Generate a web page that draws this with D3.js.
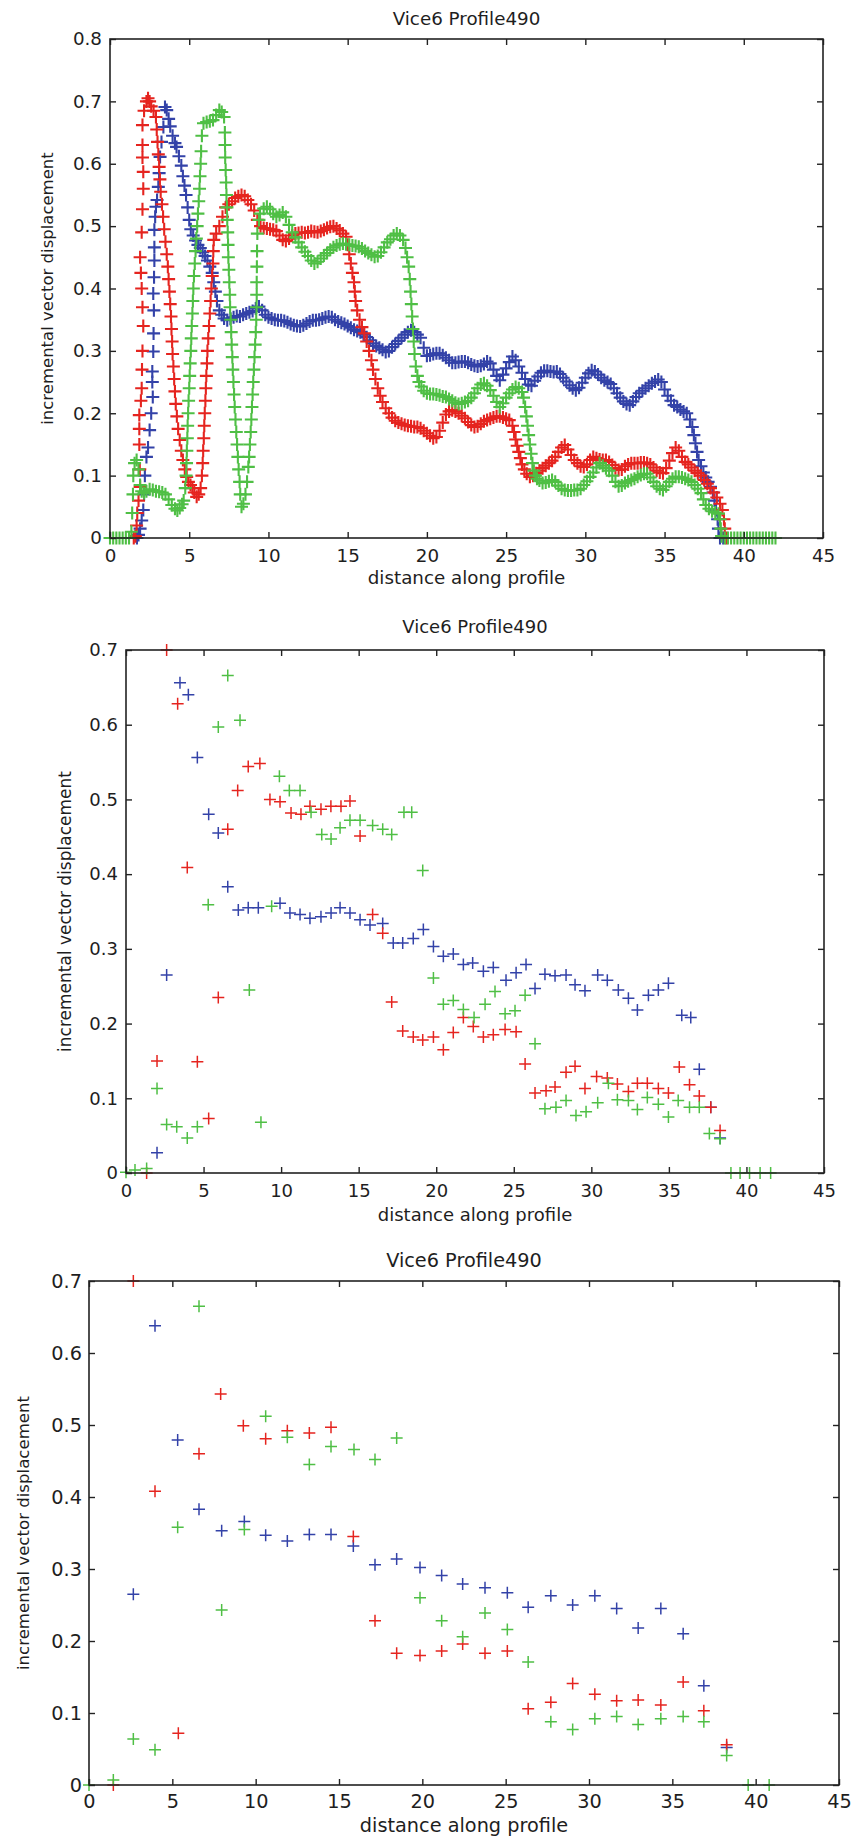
<!DOCTYPE html>
<html>
<head>
<meta charset="utf-8">
<script src="https://cdnjs.cloudflare.com/ajax/libs/d3/7.8.5/d3.min.js"></script>
<style>
    body { margin: 0; background: #fff; }
    svg text { font-family: "DejaVu Sans", sans-serif; fill: #1e1e1e; }
</style>
</head>
<body>
<div id="chart"></div>
<script>
// ---- labels & ticks ----
const chartTitle = "Vice6 Profile490";
const xLabel = "distance along profile";
const yLabel = "incremental vector displacement";
const xTicks = [0, 5, 10, 15, 20, 25, 30, 35, 40, 45];
const yTicksTall = [0, 0.1, 0.2, 0.3, 0.4, 0.5, 0.6, 0.7, 0.8];
const yTicksShort = [0, 0.1, 0.2, 0.3, 0.4, 0.5, 0.6, 0.7];

// ---- top panel: dense profile, [distance, displacement] ----
const denseBlue = [[1.7,0],[1.8,0.005],[1.9,0.015],[2.0,0.028],[2.1,0.045],[2.15,0.07],[2.2,0.1],[2.3,0.13],[2.4,0.145],[2.5,0.173],[2.6,0.2],[2.7,0.226],[2.67,0.25],[2.67,0.267],[2.73,0.299],[2.75,0.328],[2.77,0.365],[2.73,0.392],[2.78,0.418],[2.8,0.445],[2.8,0.466],[2.8,0.494],[2.85,0.515],[2.9,0.531],[2.97,0.542],[3.05,0.563],[3.1,0.585],[3.16,0.611],[3.25,0.635],[3.37,0.659],[3.47,0.691],[3.58,0.686],[3.7,0.672],[3.8,0.66],[3.95,0.645],[4.1,0.633],[4.2,0.627],[4.35,0.612],[4.5,0.597],[4.6,0.58],[4.7,0.565],[4.8,0.55],[4.9,0.53],[5.0,0.51],[5.1,0.495],[5.25,0.485],[5.4,0.477],[5.55,0.47],[5.7,0.465],[5.85,0.458],[6.0,0.452],[6.15,0.445],[6.3,0.435],[6.45,0.425],[6.55,0.41],[6.65,0.395],[6.75,0.38],[6.9,0.365],[7.05,0.358],[7.2,0.352],[7.4,0.349],[7.6,0.352],[7.8,0.354],[8.0,0.356],[8.2,0.355],[8.4,0.358],[8.6,0.36],[8.8,0.362],[9.0,0.364],[9.2,0.368],[9.4,0.371],[9.6,0.365],[9.8,0.358],[10.0,0.354],[10.2,0.352],[10.4,0.35],[10.6,0.349],[10.8,0.349],[11.0,0.348],[11.2,0.346],[11.4,0.343],[11.6,0.341],[11.8,0.34],[12.0,0.339],[12.2,0.341],[12.4,0.344],[12.6,0.347],[12.8,0.349],[13.0,0.349],[13.2,0.35],[13.4,0.352],[13.6,0.354],[13.8,0.355],[14.0,0.354],[14.2,0.35],[14.4,0.347],[14.6,0.345],[14.8,0.343],[15.0,0.34],[15.2,0.337],[15.4,0.334],[15.6,0.332],[15.8,0.33],[16.0,0.326],[16.2,0.322],[16.4,0.317],[16.6,0.312],[16.8,0.308],[17.0,0.305],[17.2,0.302],[17.4,0.298],[17.6,0.3],[17.8,0.306],[18.0,0.311],[18.2,0.316],[18.4,0.321],[18.6,0.326],[18.8,0.33],[19.0,0.333],[19.2,0.33],[19.4,0.326],[19.6,0.321],[19.8,0.305],[20.0,0.292],[20.2,0.293],[20.4,0.295],[20.6,0.296],[20.8,0.296],[21.0,0.293],[21.2,0.289],[21.4,0.285],[21.6,0.281],[21.8,0.281],[22.0,0.282],[22.2,0.283],[22.4,0.283],[22.6,0.281],[22.8,0.278],[23.0,0.276],[23.2,0.275],[23.4,0.276],[23.6,0.279],[23.8,0.283],[24.0,0.28],[24.2,0.27],[24.4,0.26],[24.6,0.253],[24.8,0.262],[25.0,0.272],[25.2,0.282],[25.4,0.291],[25.6,0.285],[25.8,0.275],[26.0,0.265],[26.2,0.255],[26.4,0.246],[26.6,0.244],[26.8,0.252],[27.0,0.259],[27.2,0.265],[27.4,0.268],[27.6,0.268],[27.8,0.267],[28.0,0.266],[28.2,0.267],[28.4,0.263],[28.6,0.257],[28.8,0.251],[29.0,0.245],[29.2,0.24],[29.4,0.237],[29.6,0.241],[29.8,0.249],[30.0,0.257],[30.2,0.264],[30.4,0.269],[30.6,0.267],[30.8,0.262],[31.0,0.257],[31.2,0.253],[31.4,0.25],[31.6,0.247],[31.8,0.24],[32.0,0.232],[32.2,0.225],[32.4,0.219],[32.6,0.215],[32.8,0.213],[33.0,0.219],[33.2,0.226],[33.4,0.232],[33.6,0.236],[33.8,0.24],[34.0,0.244],[34.2,0.248],[34.4,0.251],[34.6,0.254],[34.8,0.25],[35.0,0.238],[35.2,0.228],[35.4,0.22],[35.6,0.213],[35.8,0.21],[36.0,0.206],[36.2,0.203],[36.4,0.2],[36.6,0.19],[36.75,0.178],[36.85,0.165],[36.95,0.152],[37.05,0.138],[37.15,0.125],[37.3,0.115],[37.45,0.105],[37.6,0.097],[37.75,0.09],[37.9,0.082],[38.05,0.073],[38.15,0.06],[38.25,0.045],[38.35,0.03],[38.4,0.015],[38.5,0],[38.7,0]];

const denseRed = [[1.5,0],[1.6,0.003],[1.68,0.02],[1.72,0.04],[1.8,0.06],[1.9,0.082],[1.88,0.11],[1.85,0.15],[1.85,0.175],[1.85,0.197],[1.95,0.22],[2.0,0.24],[2.02,0.27],[2.05,0.3],[2.1,0.34],[2.05,0.37],[2.0,0.4],[1.95,0.425],[1.9,0.45],[2.0,0.49],[2.05,0.527],[2.1,0.56],[2.1,0.587],[2.05,0.61],[2.05,0.63],[2.05,0.662],[2.15,0.685],[2.3,0.7],[2.4,0.705],[2.5,0.7],[2.6,0.692],[2.75,0.685],[2.9,0.675],[2.95,0.655],[3.0,0.635],[3.05,0.615],[3.1,0.595],[3.15,0.575],[3.2,0.555],[3.28,0.535],[3.35,0.515],[3.42,0.495],[3.5,0.475],[3.58,0.455],[3.65,0.435],[3.7,0.415],[3.75,0.395],[3.8,0.375],[3.85,0.355],[3.88,0.335],[3.92,0.315],[3.95,0.295],[4.0,0.275],[4.05,0.255],[4.1,0.235],[4.15,0.215],[4.22,0.195],[4.3,0.175],[4.4,0.157],[4.5,0.14],[4.6,0.125],[4.72,0.11],[4.84,0.098],[4.95,0.09],[5.08,0.085],[5.2,0.08],[5.32,0.073],[5.47,0.066],[5.6,0.07],[5.72,0.08],[5.8,0.1],[5.85,0.12],[5.88,0.14],[5.92,0.16],[5.95,0.18],[5.98,0.2],[6.02,0.22],[6.05,0.24],[6.08,0.26],[6.12,0.28],[6.15,0.3],[6.2,0.32],[6.25,0.34],[6.3,0.36],[6.35,0.38],[6.4,0.4],[6.45,0.42],[6.5,0.44],[6.52,0.46],[6.55,0.478],[6.7,0.488],[6.9,0.5],[7.1,0.515],[7.3,0.53],[7.5,0.535],[7.7,0.54],[7.9,0.545],[8.1,0.548],[8.3,0.55],[8.5,0.548],[8.7,0.542],[8.9,0.535],[9.1,0.525],[9.3,0.51],[9.5,0.5],[9.7,0.497],[9.9,0.496],[10.1,0.495],[10.3,0.494],[10.5,0.492],[10.7,0.485],[10.9,0.478],[11.1,0.476],[11.3,0.48],[11.5,0.485],[11.7,0.488],[11.9,0.489],[12.1,0.49],[12.3,0.489],[12.5,0.49],[12.7,0.492],[12.9,0.491],[13.1,0.49],[13.3,0.492],[13.5,0.494],[13.7,0.497],[13.9,0.499],[14.1,0.5],[14.3,0.496],[14.5,0.493],[14.7,0.488],[14.9,0.483],[15.0,0.47],[15.1,0.455],[15.2,0.44],[15.3,0.425],[15.4,0.41],[15.45,0.395],[15.5,0.38],[15.6,0.365],[15.75,0.35],[15.9,0.338],[16.05,0.328],[16.2,0.315],[16.35,0.3],[16.5,0.285],[16.6,0.27],[16.75,0.255],[16.9,0.24],[17.05,0.228],[17.2,0.218],[17.4,0.208],[17.6,0.2],[17.8,0.193],[18.0,0.188],[18.2,0.185],[18.4,0.183],[18.6,0.181],[18.8,0.18],[19.0,0.179],[19.2,0.178],[19.4,0.178],[19.6,0.176],[19.8,0.172],[20.0,0.168],[20.2,0.164],[20.4,0.16],[20.6,0.162],[20.8,0.172],[21.0,0.185],[21.2,0.198],[21.4,0.203],[21.6,0.205],[21.8,0.203],[22.0,0.2],[22.2,0.196],[22.4,0.192],[22.6,0.186],[22.8,0.181],[23.0,0.178],[23.2,0.179],[23.4,0.183],[23.6,0.187],[23.8,0.189],[24.0,0.191],[24.2,0.193],[24.4,0.195],[24.6,0.195],[24.8,0.193],[25.0,0.191],[25.2,0.189],[25.4,0.18],[25.5,0.17],[25.6,0.158],[25.7,0.148],[25.8,0.138],[25.9,0.128],[26.0,0.118],[26.15,0.11],[26.3,0.103],[26.5,0.098],[26.7,0.1],[26.9,0.104],[27.1,0.108],[27.3,0.112],[27.5,0.116],[27.7,0.12],[27.9,0.124],[28.1,0.13],[28.3,0.138],[28.5,0.145],[28.7,0.149],[28.9,0.142],[29.1,0.133],[29.3,0.125],[29.5,0.12],[29.7,0.115],[29.9,0.114],[30.1,0.118],[30.3,0.125],[30.5,0.13],[30.7,0.128],[30.9,0.126],[31.1,0.125],[31.3,0.125],[31.5,0.122],[31.7,0.117],[31.9,0.112],[32.1,0.109],[32.3,0.11],[32.5,0.115],[32.7,0.118],[32.9,0.12],[33.1,0.12],[33.3,0.12],[33.5,0.121],[33.7,0.121],[33.9,0.12],[34.1,0.118],[34.3,0.113],[34.5,0.108],[34.7,0.105],[34.9,0.104],[35.1,0.112],[35.3,0.124],[35.5,0.136],[35.7,0.145],[35.9,0.14],[36.1,0.13],[36.3,0.122],[36.5,0.118],[36.7,0.113],[36.9,0.108],[37.1,0.104],[37.3,0.1],[37.5,0.093],[37.7,0.087],[37.9,0.08],[38.1,0.073],[38.3,0.065],[38.5,0.055],[38.65,0.045],[38.75,0.03],[38.8,0.015],[38.9,0]];

const denseGreen = [[0,0],[0.2,0],[0.4,0],[0.6,0],[0.8,0],[1.0,0],[1.2,0],[1.35,0.01],[1.4,0.04],[1.45,0.07],[1.47,0.1],[1.55,0.12],[1.68,0.125],[1.8,0.11],[1.9,0.085],[2.0,0.075],[2.15,0.072],[2.3,0.075],[2.5,0.078],[2.7,0.077],[2.9,0.075],[3.1,0.074],[3.3,0.073],[3.5,0.07],[3.7,0.062],[3.9,0.053],[4.1,0.047],[4.25,0.044],[4.4,0.048],[4.55,0.054],[4.65,0.06],[4.75,0.08],[4.8,0.1],[4.83,0.12],[4.85,0.14],[4.88,0.16],[4.9,0.18],[4.93,0.2],[4.96,0.22],[5.0,0.24],[5.03,0.26],[5.06,0.28],[5.1,0.3],[5.13,0.32],[5.16,0.34],[5.2,0.36],[5.23,0.38],[5.26,0.4],[5.3,0.42],[5.35,0.44],[5.4,0.46],[5.45,0.48],[5.5,0.5],[5.55,0.52],[5.6,0.54],[5.65,0.56],[5.68,0.58],[5.72,0.6],[5.75,0.62],[5.8,0.645],[5.9,0.665],[6.1,0.667],[6.3,0.668],[6.5,0.67],[6.7,0.678],[6.9,0.686],[7.05,0.683],[7.2,0.675],[7.25,0.65],[7.26,0.63],[7.27,0.61],[7.3,0.59],[7.33,0.57],[7.35,0.55],[7.38,0.53],[7.4,0.51],[7.43,0.49],[7.45,0.47],[7.47,0.45],[7.5,0.43],[7.53,0.41],[7.56,0.39],[7.58,0.37],[7.62,0.35],[7.65,0.33],[7.68,0.31],[7.72,0.29],[7.75,0.27],[7.79,0.25],[7.83,0.23],[7.87,0.21],[7.92,0.19],[7.97,0.17],[8.02,0.15],[8.07,0.13],[8.12,0.11],[8.18,0.09],[8.22,0.07],[8.3,0.05],[8.42,0.055],[8.55,0.07],[8.65,0.09],[8.73,0.114],[8.78,0.13],[8.83,0.15],[8.88,0.17],[8.92,0.19],[8.96,0.21],[9.0,0.23],[9.04,0.25],[9.08,0.27],[9.12,0.29],[9.16,0.31],[9.2,0.33],[9.23,0.35],[9.25,0.37],[9.26,0.39],[9.26,0.41],[9.27,0.435],[9.28,0.46],[9.3,0.488],[9.4,0.51],[9.47,0.52],[9.7,0.528],[9.9,0.531],[10.1,0.527],[10.3,0.52],[10.5,0.515],[10.7,0.518],[10.9,0.522],[11.1,0.515],[11.3,0.502],[11.5,0.49],[11.7,0.482],[11.9,0.474],[12.1,0.466],[12.3,0.459],[12.5,0.452],[12.7,0.445],[12.9,0.44],[13.1,0.443],[13.3,0.448],[13.5,0.453],[13.7,0.457],[13.9,0.462],[14.1,0.466],[14.3,0.469],[14.5,0.471],[14.7,0.472],[14.9,0.471],[15.1,0.47],[15.3,0.469],[15.5,0.468],[15.7,0.467],[15.9,0.464],[16.1,0.46],[16.3,0.457],[16.5,0.454],[16.7,0.451],[16.9,0.452],[17.1,0.458],[17.3,0.466],[17.5,0.474],[17.7,0.479],[17.9,0.485],[18.1,0.488],[18.3,0.485],[18.5,0.478],[18.65,0.465],[18.75,0.45],[18.85,0.435],[18.92,0.415],[18.97,0.395],[19.02,0.375],[19.07,0.355],[19.12,0.335],[19.17,0.315],[19.22,0.295],[19.3,0.275],[19.4,0.26],[19.5,0.25],[19.65,0.243],[19.8,0.236],[20.0,0.232],[20.2,0.231],[20.4,0.231],[20.6,0.23],[20.8,0.229],[21.0,0.227],[21.2,0.226],[21.4,0.223],[21.6,0.22],[21.8,0.217],[22.0,0.215],[22.2,0.216],[22.4,0.218],[22.6,0.22],[22.8,0.225],[23.0,0.232],[23.2,0.24],[23.4,0.246],[23.6,0.248],[23.8,0.244],[24.0,0.237],[24.2,0.228],[24.4,0.218],[24.6,0.21],[24.8,0.216],[25.0,0.225],[25.2,0.232],[25.4,0.238],[25.6,0.242],[25.8,0.24],[26.0,0.234],[26.1,0.225],[26.2,0.21],[26.28,0.195],[26.35,0.18],[26.42,0.165],[26.5,0.15],[26.58,0.135],[26.66,0.12],[26.75,0.108],[26.85,0.1],[26.95,0.095],[27.1,0.092],[27.3,0.088],[27.5,0.089],[27.7,0.091],[27.9,0.093],[28.1,0.09],[28.3,0.084],[28.5,0.079],[28.7,0.077],[28.9,0.076],[29.1,0.076],[29.3,0.077],[29.5,0.077],[29.7,0.079],[29.9,0.085],[30.1,0.091],[30.3,0.098],[30.5,0.105],[30.7,0.113],[30.9,0.12],[31.1,0.116],[31.3,0.112],[31.5,0.108],[31.7,0.1],[31.9,0.09],[32.1,0.083],[32.3,0.084],[32.5,0.088],[32.7,0.091],[32.9,0.093],[33.1,0.095],[33.3,0.098],[33.5,0.101],[33.7,0.103],[33.9,0.103],[34.1,0.097],[34.3,0.09],[34.5,0.083],[34.7,0.079],[34.9,0.077],[35.1,0.083],[35.3,0.09],[35.5,0.095],[35.7,0.098],[35.9,0.098],[36.1,0.097],[36.3,0.095],[36.5,0.093],[36.7,0.09],[36.9,0.085],[37.1,0.079],[37.3,0.072],[37.45,0.062],[37.6,0.053],[37.8,0.047],[38.0,0.043],[38.2,0.041],[38.4,0.039],[38.5,0.03],[38.55,0.015],[38.6,0.003],[38.8,0],[39.0,0],[39.2,0],[39.4,0],[39.6,0],[39.8,0],[40.0,0],[40.2,0],[40.4,0],[40.6,0],[40.8,0],[41.0,0],[41.2,0],[41.4,0],[41.6,0],[41.8,0],[42.0,0]];

// ---- middle panel: resampled points ----
const midBlue = [[2.0,0.027],[2.62,0.265],[3.48,0.656],[4.02,0.64],[4.6,0.556],[5.33,0.48],[5.95,0.455],[6.56,0.383],[7.24,0.352],[7.88,0.355],[8.53,0.355],[9.93,0.361],[10.57,0.348],[11.22,0.346],[11.86,0.341],[12.57,0.343],[13.22,0.348],[13.8,0.355],[14.44,0.348],[15.09,0.339],[15.73,0.332],[16.55,0.334],[17.23,0.308],[17.84,0.308],[18.52,0.314],[19.17,0.326],[19.82,0.303],[20.46,0.29],[21.1,0.293],[21.75,0.279],[22.35,0.281],[23.04,0.27],[23.68,0.275],[24.5,0.258],[25.15,0.268],[25.79,0.279],[26.37,0.247],[27.01,0.266],[27.66,0.264],[28.37,0.265],[28.95,0.252],[29.59,0.244],[30.41,0.265],[31.03,0.258],[31.74,0.245],[32.39,0.234],[32.97,0.218],[33.68,0.238],[34.32,0.245],[34.97,0.254],[35.83,0.211],[36.41,0.208],[36.96,0.139],[37.7,0.088],[38.3,0.047]];
const midRed = [[1.33,0],[2.0,0.15],[2.62,0.7],[3.33,0.628],[3.95,0.409],[4.6,0.149],[5.33,0.073],[5.95,0.235],[6.56,0.46],[7.2,0.512],[7.88,0.544],[8.63,0.548],[9.28,0.5],[9.93,0.497],[10.64,0.482],[11.28,0.48],[11.86,0.491],[12.57,0.487],[13.21,0.491],[13.86,0.491],[14.44,0.498],[15.09,0.451],[15.9,0.346],[16.55,0.321],[17.13,0.229],[17.84,0.19],[18.52,0.182],[19.13,0.178],[19.82,0.182],[20.46,0.165],[21.1,0.188],[21.75,0.208],[22.39,0.196],[23.04,0.182],[23.68,0.185],[24.44,0.192],[25.15,0.189],[25.73,0.146],[26.37,0.107],[27.08,0.11],[27.66,0.115],[28.37,0.135],[28.95,0.143],[29.59,0.113],[30.34,0.129],[31.03,0.127],[31.68,0.119],[32.39,0.109],[32.97,0.12],[33.61,0.12],[34.32,0.113],[34.97,0.107],[35.67,0.142],[36.33,0.118],[36.96,0.103],[37.7,0.088],[38.3,0.057]];
const midGreen = [[0,0.001],[0.58,0.004],[1.33,0.006],[2.0,0.113],[2.62,0.065],[3.27,0.062],[3.95,0.047],[4.6,0.062],[5.3,0.359],[5.95,0.597],[6.56,0.666],[7.35,0.606],[7.95,0.245],[8.7,0.068],[9.39,0.357],[9.89,0.531],[10.53,0.512],[11.22,0.512],[11.93,0.483],[12.62,0.453],[13.22,0.447],[13.8,0.462],[14.44,0.472],[15.09,0.472],[15.9,0.465],[16.55,0.46],[17.13,0.453],[17.92,0.483],[18.42,0.483],[19.13,0.405],[19.82,0.261],[20.46,0.226],[21.1,0.231],[21.75,0.219],[22.44,0.208],[23.15,0.226],[23.79,0.243],[24.44,0.213],[25.08,0.217],[25.73,0.238],[26.37,0.173],[27.01,0.086],[27.72,0.088],[28.37,0.097],[29.01,0.077],[29.66,0.082],[30.41,0.094],[31.1,0.12],[31.68,0.098],[32.39,0.097],[32.97,0.085],[33.61,0.101],[34.32,0.092],[34.97,0.075],[35.6,0.097],[36.33,0.088],[36.96,0.088],[37.61,0.053],[38.3,0.046],[39.0,0],[39.59,0],[40.2,0],[40.88,0],[41.56,0]];

// ---- bottom panel: sparser points ----
const lowBlue = [[2.66,0.265],[3.96,0.638],[5.32,0.479],[6.6,0.383],[7.96,0.353],[9.32,0.366],[10.6,0.347],[11.9,0.339],[13.22,0.348],[14.52,0.348],[15.86,0.332],[17.16,0.306],[18.46,0.314],[19.86,0.302],[21.16,0.291],[22.42,0.279],[23.76,0.274],[25.1,0.267],[26.35,0.247],[27.71,0.263],[29.02,0.25],[30.35,0.263],[31.66,0.245],[32.95,0.218],[34.31,0.245],[35.65,0.21],[36.89,0.138],[38.26,0.052]];
const lowRed = [[1.46,0],[2.66,0.7],[3.96,0.408],[5.36,0.072],[6.6,0.46],[7.9,0.543],[9.26,0.499],[10.6,0.481],[11.9,0.492],[13.22,0.489],[14.52,0.497],[15.86,0.345],[17.16,0.228],[18.46,0.183],[19.86,0.18],[21.16,0.186],[22.42,0.196],[23.76,0.183],[25.1,0.186],[26.35,0.106],[27.71,0.115],[29.02,0.141],[30.35,0.126],[31.66,0.117],[32.95,0.118],[34.31,0.111],[35.65,0.143],[36.89,0.103],[38.26,0.056]];
const lowGreen = [[0,0],[1.46,0.007],[2.66,0.064],[3.96,0.049],[5.32,0.358],[6.6,0.665],[7.96,0.243],[9.32,0.355],[10.6,0.512],[11.9,0.483],[13.22,0.445],[14.52,0.47],[15.9,0.466],[17.16,0.452],[18.46,0.482],[19.86,0.26],[21.16,0.228],[22.42,0.206],[23.76,0.239],[25.1,0.216],[26.35,0.171],[27.71,0.088],[29.02,0.077],[30.35,0.092],[31.66,0.095],[32.95,0.084],[34.31,0.092],[35.65,0.095],[36.89,0.088],[38.26,0.041],[39.55,0],[40.81,0]];

const colors = { blue: "#3342a8", red: "#e5241f", green: "#4fbf45" };

const width = 851, height = 1838;

const svg = d3.select("#chart").append("svg")
    .attr("width", width)
    .attr("height", height);

// panel layout (pixels)
const panels = [
    { left: 110, right: 823, top: 39, bottom: 538, yMax: 0.8, yTicks: yTicksTall, fs: 18.3, yfs: 16.5,
      titleY: 25, xlabY: 584, ylabX: 53, xPad: 11, yPad: 8, mr: 6.5, mw: 2.1,
      data: [denseBlue, denseRed, denseGreen] },
    { left: 126, right: 824, top: 650, bottom: 1173, yMax: 0.7, yTicks: yTicksShort, fs: 18, yfs: 17,
      titleY: 633, xlabY: 1221, ylabX: 71, xPad: 11, yPad: 8, mr: 6, mw: 1.5,
      data: [midBlue, midRed, midGreen] },
    { left: 89, right: 839, top: 1281, bottom: 1785, yMax: 0.7, yTicks: yTicksShort, fs: 19.3, yfs: 16.6,
      titleY: 1267, xlabY: 1832, ylabX: 29, xPad: 9.5, yPad: 7, mr: 6, mw: 1.5,
      data: [lowBlue, lowRed, lowGreen] }
];

function plus(cx, cy, r) {
    return "M" + (cx - r) + "," + cy + "H" + (cx + r) + "M" + cx + "," + (cy - r) + "V" + (cy + r);
}

function drawPanel(p) {
    const x = d3.scaleLinear().domain([0, 45]).range([p.left, p.right]);
    const y = d3.scaleLinear().domain([0, p.yMax]).range([p.bottom, p.top]);

    const g = svg.append("g");

    // markers: blue first, then red, then green on top
    const seriesColors = [colors.blue, colors.red, colors.green];
    p.data.forEach((pts, i) => {
        g.append("g")
            .attr("fill", "none")
            .attr("stroke", seriesColors[i])
            .attr("stroke-width", p.mw)
            .selectAll("path")
            .data(pts)
            .join("path")
            .attr("d", d => plus(x(d[0]), y(d[1]), p.mr));
    });

    // axes, ticks pointing inwards
    const bottomAxis = g.append("g")
        .attr("transform", "translate(0," + p.bottom + ")")
        .call(d3.axisBottom(x).tickValues(xTicks).tickSizeInner(-6).tickSizeOuter(0)
            .tickPadding(p.xPad).tickFormat(d => String(d)));
    const leftAxis = g.append("g")
        .attr("transform", "translate(" + p.left + ",0)")
        .call(d3.axisLeft(y).tickValues(p.yTicks).tickSizeInner(-6).tickSizeOuter(0)
            .tickPadding(p.yPad).tickFormat(d => String(d)));
    g.append("g")
        .attr("transform", "translate(0," + p.top + ")")
        .call(d3.axisTop(x).tickValues(xTicks).tickSizeInner(-6).tickSizeOuter(0).tickFormat(""));
    g.append("g")
        .attr("transform", "translate(" + p.right + ",0)")
        .call(d3.axisRight(y).tickValues(p.yTicks).tickSizeInner(-6).tickSizeOuter(0).tickFormat(""));

    g.selectAll(".domain").remove();
    g.selectAll(".tick line").attr("stroke", "#222").attr("stroke-width", 1.4);
    [bottomAxis, leftAxis].forEach(a => a.selectAll("text")
        .attr("font-family", "DejaVu Sans, sans-serif")
        .attr("font-size", p.fs)
        .attr("fill", "#1e1e1e"));

    g.append("rect")
        .attr("x", p.left)
        .attr("y", p.top)
        .attr("width", p.right - p.left)
        .attr("height", p.bottom - p.top)
        .attr("fill", "none")
        .attr("stroke", "#222")
        .attr("stroke-width", 1.6);

    g.append("text")
        .attr("x", (p.left + p.right) / 2)
        .attr("y", p.titleY)
        .attr("text-anchor", "middle")
        .style("font-size", p.fs + "px")
        .text(chartTitle);

    g.append("text")
        .attr("x", (p.left + p.right) / 2)
        .attr("y", p.xlabY)
        .attr("text-anchor", "middle")
        .style("font-size", p.fs + "px")
        .text(xLabel);

    g.append("text")
        .attr("transform", "translate(" + p.ylabX + "," + (p.top + p.bottom) / 2 + ") rotate(-90)")
        .attr("text-anchor", "middle")
        .style("font-size", p.yfs + "px")
        .text(yLabel);
}

panels.forEach(drawPanel);
</script>
</body>
</html>
